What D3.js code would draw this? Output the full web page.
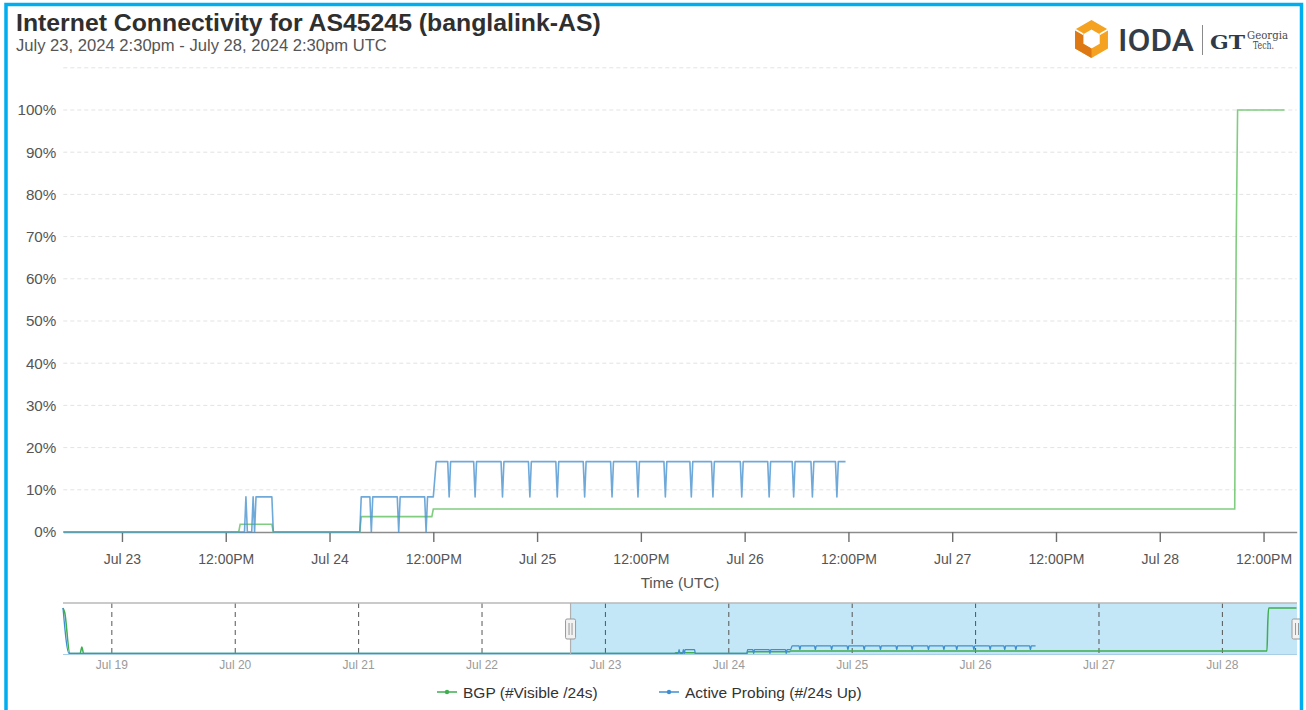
<!DOCTYPE html>
<html><head><meta charset="utf-8">
<script src="https://cdn.jsdelivr.net/npm/d3@7"></script>
<style>
html,body{margin:0;padding:0;background:#fff;}
svg{display:block;font-family:"Liberation Sans",Arial,Helvetica,sans-serif;}
</style></head>
<body><svg id="c" width="1306" height="710"></svg>
<script>
// ---------------- DATA ----------------
const titleText = "Internet Connectivity for AS45245 (banglalink-AS)";
const subtitleText = "July 23, 2024 2:30pm - July 28, 2024 2:30pm UTC";
const seriesNames = ["BGP (#Visible /24s)", "Active Probing (#/24s Up)"];

const bgpTimes = [
  "2024-07-18T14:30","2024-07-18T14:50","2024-07-18T15:50","2024-07-18T17:50","2024-07-18T18:10","2024-07-18T18:30",
  "2024-07-23T13:30","2024-07-23T13:40","2024-07-23T17:20","2024-07-23T17:30",
  "2024-07-24T03:30","2024-07-24T03:40","2024-07-24T11:50","2024-07-24T12:00",
  "2024-07-28T08:40","2024-07-28T08:50","2024-07-28T09:00","2024-07-28T14:25"
];
const bgpValues = [
  100, 90, 0, 0, 14.5, 0,
  0, 1.82, 1.82, 0,
  0, 3.64, 3.64, 5.45,
  5.45, 68, 100, 100
];

const probeTimes = [
  "2024-07-18T14:30","2024-07-18T15:40",
  "2024-07-23T14:10","2024-07-23T14:20","2024-07-23T14:30",
  "2024-07-23T15:00","2024-07-23T15:10","2024-07-23T15:20","2024-07-23T15:30","2024-07-23T17:20","2024-07-23T17:30",
  "2024-07-24T03:30","2024-07-24T03:40",
  "2024-07-24T04:40","2024-07-24T04:50","2024-07-24T05:00",
  "2024-07-24T07:50","2024-07-24T08:00","2024-07-24T08:10",
  "2024-07-24T11:00","2024-07-24T11:10","2024-07-24T11:20",
  "2024-07-24T12:00","2024-07-24T12:20",
  "2024-07-24T13:40","2024-07-24T13:50","2024-07-24T14:00",
  "2024-07-24T16:40","2024-07-24T16:50","2024-07-24T17:00",
  "2024-07-24T19:50","2024-07-24T20:00","2024-07-24T20:10",
  "2024-07-24T23:00","2024-07-24T23:10","2024-07-24T23:20",
  "2024-07-25T02:10","2024-07-25T02:20","2024-07-25T02:30",
  "2024-07-25T05:20","2024-07-25T05:30","2024-07-25T05:40",
  "2024-07-25T08:30","2024-07-25T08:40","2024-07-25T08:50",
  "2024-07-25T11:30","2024-07-25T11:40","2024-07-25T11:50",
  "2024-07-25T14:40","2024-07-25T14:50","2024-07-25T15:00",
  "2024-07-25T17:40","2024-07-25T17:50","2024-07-25T18:00",
  "2024-07-25T20:10","2024-07-25T20:20","2024-07-25T20:30",
  "2024-07-25T23:30","2024-07-25T23:40","2024-07-25T23:50",
  "2024-07-26T02:40","2024-07-26T02:50","2024-07-26T03:00",
  "2024-07-26T05:30","2024-07-26T05:40","2024-07-26T05:50",
  "2024-07-26T07:40","2024-07-26T07:50","2024-07-26T08:00",
  "2024-07-26T10:30","2024-07-26T10:40","2024-07-26T10:50",
  "2024-07-26T11:40"
];
const probeValues = [
  100, 0,
  0, 8.33, 0,
  0, 8.33, 0, 8.33, 8.33, 0,
  0, 8.33,
  8.33, 0, 8.33,
  8.33, 0, 8.33,
  8.33, 0, 8.33,
  8.33, 16.67,
  16.67, 8.33, 16.67,
  16.67, 8.33, 16.67,
  16.67, 8.33, 16.67,
  16.67, 8.33, 16.67,
  16.67, 8.33, 16.67,
  16.67, 8.33, 16.67,
  16.67, 8.33, 16.67,
  16.67, 8.33, 16.67,
  16.67, 8.33, 16.67,
  16.67, 8.33, 16.67,
  16.67, 8.33, 16.67,
  16.67, 8.33, 16.67,
  16.67, 8.33, 16.67,
  16.67, 8.33, 16.67,
  16.67, 8.33, 16.67,
  16.67, 8.33, 16.67,
  16.67
];

const yTickValues = [0,10,20,30,40,50,60,70,80,90,100];
const yGridValues = [10,20,30,40,50,60,70,80,90,100,110];
const mainTickTimes = [
  "2024-07-23T00:00","2024-07-23T12:00","2024-07-24T00:00","2024-07-24T12:00",
  "2024-07-25T00:00","2024-07-25T12:00","2024-07-26T00:00","2024-07-26T12:00",
  "2024-07-27T00:00","2024-07-27T12:00","2024-07-28T00:00","2024-07-28T12:00"
];
const navTickTimes = ["2024-07-19T00:00","2024-07-20T00:00","2024-07-21T00:00","2024-07-22T00:00","2024-07-23T00:00",
  "2024-07-24T00:00","2024-07-25T00:00","2024-07-26T00:00","2024-07-27T00:00","2024-07-28T00:00"];
const mainDomain = ["2024-07-22T17:13","2024-07-28T15:50"];
const navDomain = ["2024-07-18T14:30","2024-07-28T14:25"];

// ---------------- DRAW ----------------
const parse = d3.utcParse("%Y-%m-%dT%H:%M");
const bgp = bgpTimes.map((t,i)=>({t:parse(t), v:bgpValues[i]}));
const probe = probeTimes.map((t,i)=>({t:parse(t), v:probeValues[i]}));
const colors = {bgp:"#72c872", probe:"#4b94cf"};

const svg = d3.select("#c");
svg.append("rect").attr("width",1306).attr("height",710).attr("fill","#fff");

// Title
svg.append("text").attr("x",16).attr("y",31).attr("font-size",24.8).attr("font-weight","bold")
  .attr("fill","#2f2f2f").text(titleText);
svg.append("text").attr("x",16).attr("y",51).attr("font-size",16.6).attr("fill","#555").text(subtitleText);

// Main chart
const L=63.3, R=1296.7, B=532;
const x = d3.scaleUtc().domain(mainDomain.map(parse)).range([L,R]);
const y = d3.scaleLinear().domain([0,110]).range([B,67.8]);

const grid = svg.append("g");
grid.selectAll("line").data(yGridValues).join("line")
  .attr("x1",L).attr("x2",R).attr("y1",d=>y(d)).attr("y2",d=>y(d))
  .attr("stroke","#e3e3e3").attr("stroke-dasharray","4,3").attr("stroke-width",1);

const yAxis = svg.append("g").attr("transform",`translate(${L},0)`)
  .call(d3.axisLeft(y).tickValues(yTickValues).tickSize(0).tickPadding(7).tickFormat(d=>d+"%"));
yAxis.select(".domain").remove();
yAxis.selectAll("text").attr("font-size",15.2).attr("fill","#555").attr("font-family","Liberation Sans, Arial, sans-serif");

const xAxis = svg.append("g").attr("transform",`translate(0,${B})`)
  .call(d3.axisBottom(x).tickValues(mainTickTimes.map(parse)).tickSize(10).tickSizeOuter(0).tickPadding(12)
    .tickFormat(d=> d.getUTCHours()===0 ? d3.utcFormat("%b %-d")(d) : "12:00PM"));
xAxis.select(".domain").attr("stroke","#8c8c8c").attr("stroke-width",1.6);
xAxis.selectAll(".tick line").attr("stroke","#6e6e6e").attr("stroke-width",1.4);
xAxis.selectAll("text").attr("font-size",14).attr("fill","#555").attr("font-family","Liberation Sans, Arial, sans-serif");

svg.append("text").attr("x",(L+R)/2).attr("y",587.5).attr("text-anchor","middle")
  .attr("font-size",15.2).attr("fill","#555").text("Time (UTC)");

svg.append("clipPath").attr("id","mainclip").append("rect")
  .attr("x",L).attr("y",55).attr("width",R-L).attr("height",B-55+2);
const line = d3.line().x(d=>x(d.t)).y(d=>y(d.v));
const plot = svg.append("g").attr("clip-path","url(#mainclip)");
plot.append("path").datum(bgp).attr("d",line).attr("fill","none")
  .attr("stroke",colors.bgp).attr("stroke-width",1.6).attr("stroke-opacity",0.9);
plot.append("path").datum(probe).attr("d",line).attr("fill","none")
  .attr("stroke",colors.probe).attr("stroke-width",1.6).attr("stroke-opacity",0.8).attr("stroke-linejoin","round");

// Navigator
const NT=603, NB=654.5;
const xn = d3.scaleUtc().domain(navDomain.map(parse)).range([63,1296.5]);
const yn = d3.scaleLinear().domain([0,100]).range([653.5,608]);
const selX0 = xn(parse(mainDomain[0]));
const selX1 = 1297;
svg.append("rect").attr("x",selX0).attr("y",NT).attr("width",selX1-selX0).attr("height",NB-NT).attr("fill","#c3e7f7");
svg.append("g").selectAll("line").data(navTickTimes.map(parse)).join("line")
  .attr("x1",d=>xn(d)).attr("x2",d=>xn(d)).attr("y1",NT).attr("y2",NB)
  .attr("stroke","#555").attr("stroke-dasharray","5,4").attr("stroke-width",1);
const nline = d3.line().x(d=>xn(d.t)).y(d=>yn(d.v)).curve(d3.curveMonotoneX);
svg.append("path").datum(bgp).attr("d",nline).attr("fill","none").attr("stroke","#3fae4f").attr("stroke-width",1.5);
svg.append("path").datum(probe).attr("d",nline).attr("fill","none").attr("stroke","#3f8fd0").attr("stroke-width",1.3);
svg.append("line").attr("x1",63).attr("x2",1297).attr("y1",NT).attr("y2",NT).attr("stroke","#b8b8b8").attr("stroke-width",1.5);
svg.append("line").attr("x1",63).attr("x2",1297).attr("y1",NB).attr("y2",NB).attr("stroke","#a9cfe6").attr("stroke-width",1);
svg.append("line").attr("x1",selX0).attr("x2",selX0).attr("y1",NT).attr("y2",NB).attr("stroke","#b0b0b0").attr("stroke-width",1.2);
svg.append("g").selectAll("text").data(navTickTimes.map(parse)).join("text")
  .attr("x",d=>xn(d)).attr("y",669).attr("text-anchor","middle").attr("font-size",12).attr("fill","#9a9a9a")
  .text(d=>d3.utcFormat("%b %-d")(d));
function handle(cx){
  const g = svg.append("g");
  g.append("rect").attr("x",cx-5).attr("y",619).attr("width",10).attr("height",20).attr("rx",1.5)
    .attr("fill","#f2f2f2").attr("stroke","#999").attr("stroke-width",1);
  g.append("line").attr("x1",cx-1.5).attr("x2",cx-1.5).attr("y1",623).attr("y2",635).attr("stroke","#999");
  g.append("line").attr("x1",cx+1.5).attr("x2",cx+1.5).attr("y1",623).attr("y2",635).attr("stroke","#999");
}
handle(selX0); handle(1297);

// Legend
const legend = [{name:seriesNames[0], c:"#3fae4f", x:437}, {name:seriesNames[1], c:"#3f8fd0", x:659}];
legend.forEach(d=>{
  svg.append("line").attr("x1",d.x).attr("x2",d.x+20).attr("y1",692).attr("y2",692).attr("stroke",d.c).attr("stroke-width",1.5);
  svg.append("circle").attr("cx",d.x+10).attr("cy",692).attr("r",2.2).attr("fill",d.c);
  svg.append("text").attr("x",d.x+26).attr("y",697.5).attr("font-size",15.5).attr("fill","#333").text(d.name);
});

// Logo
const lg = svg.append("g");
const cx=1091.5, cy=39, Ro=19, Ri=9.5;
const hex = (r)=>d3.range(6).map(i=>{const a=(-90+60*i)*Math.PI/180; return [cx+r*Math.cos(a), cy+r*Math.sin(a)];});
const O=hex(Ro), I=hex(Ri);
const poly = p=>"M"+p.map(q=>q.join(",")).join("L")+"Z";
lg.append("path").attr("d",poly(O)+poly(I.slice().reverse())).attr("fill","#f4a21f").attr("fill-rule","evenodd");
lg.append("path").attr("d",poly([O[5],O[4],O[3],I[3],I[4],I[5]])).attr("fill","#de7812");
lg.append("line").attr("x1",O[5][0]).attr("y1",O[5][1]).attr("x2",I[5][0]).attr("y2",I[5][1]).attr("stroke","#fff").attr("stroke-width",1.5);
lg.append("line").attr("x1",O[1][0]).attr("y1",O[1][1]).attr("x2",I[1][0]).attr("y2",I[1][1]).attr("stroke","#fff").attr("stroke-width",1.5);
lg.append("text").attr("x",1118).attr("y",50.5).attr("font-size",31).attr("font-family","Roboto, Liberation Sans, sans-serif")
  .attr("font-weight",500).attr("fill","#343c47").attr("textLength",76).attr("lengthAdjust","spacingAndGlyphs").text("IODA");
lg.append("line").attr("x1",1202.5).attr("x2",1202.5).attr("y1",25).attr("y2",55).attr("stroke","#8a8a8a").attr("stroke-width",1);
lg.append("text").attr("x",1210).attr("y",49).attr("font-size",19).attr("font-family","DejaVu Serif, serif").attr("font-weight","bold")
  .attr("fill","#2e3a4a").attr("textLength",35).attr("lengthAdjust","spacingAndGlyphs").text("GT");
lg.append("text").attr("x",1247).attr("y",39).attr("font-size",10.5).attr("font-family","DejaVu Serif, serif").attr("fill","#4a4a4a")
  .attr("textLength",41).attr("lengthAdjust","spacingAndGlyphs").text("Georgia");
lg.append("text").attr("x",1253).attr("y",49).attr("font-size",10.5).attr("font-family","DejaVu Serif, serif").attr("fill","#4a4a4a")
  .attr("textLength",21).attr("lengthAdjust","spacingAndGlyphs").text("Tech.");

// Frame border
svg.append("rect").attr("x",6).attr("y",4.5).attr("width",1295.5).attr("height",730)
  .attr("fill","none").attr("stroke","#00aeef").attr("stroke-width",3.5);
</script>
</body></html>
